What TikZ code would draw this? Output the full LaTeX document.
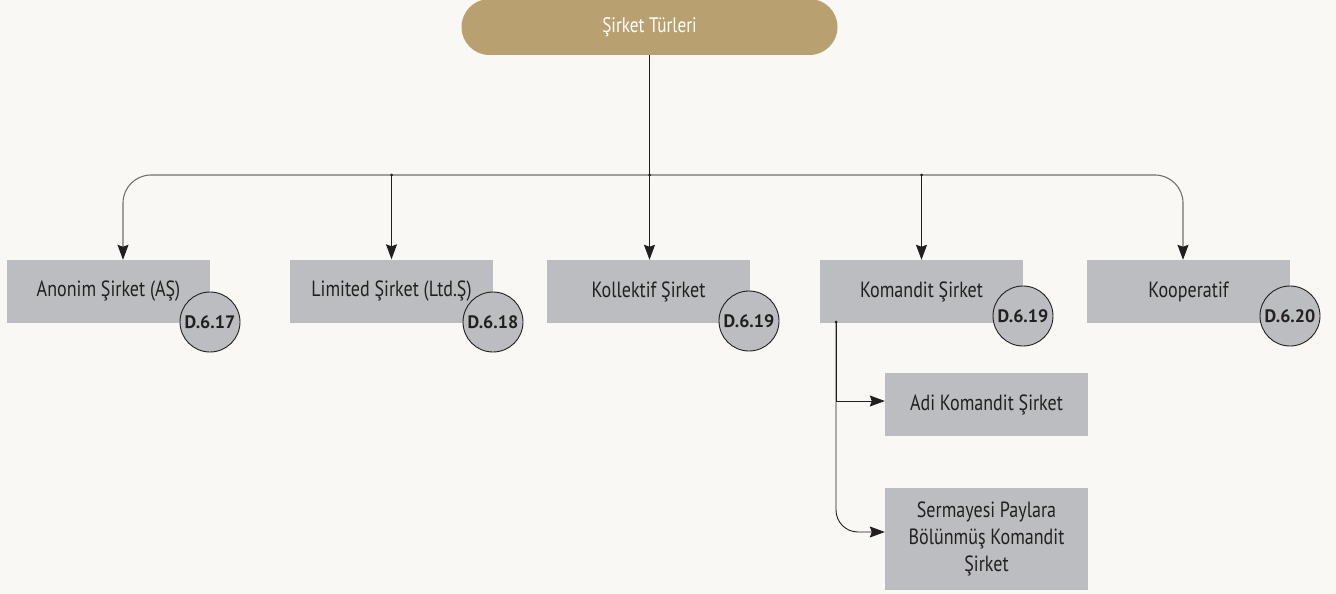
\documentclass[tikz,border=0pt]{standalone}
\usepackage{fontspec}
\setmainfont{PT Sans}[FakeStretch=0.82]
\newfontfamily\circfont{PT Sans}
\usetikzlibrary{arrows.meta,calc}
\definecolor{bgc}{HTML}{F9F8F4}
\definecolor{goldc}{HTML}{B9A070}
\definecolor{boxc}{HTML}{BCBDC0}
\definecolor{busc}{HTML}{707070}
\definecolor{inkc}{HTML}{231F20}
\tikzset{
  pill/.style={rounded corners=28pt, fill=goldc, minimum width=376pt, minimum height=56pt, inner sep=0pt, text=white, font=\fontsize{21}{24}\selectfont},
  typebox/.style={fill=boxc, minimum width=203pt, minimum height=63pt, inner sep=0pt, text=inkc, font=\fontsize{22}{25}\selectfont, align=center},
  refcirc/.style={circle, fill=boxc, draw=inkc, line width=0.9pt, minimum size=60pt, inner sep=0pt, text=inkc, font=\circfont\bfseries\fontsize{18}{21}\selectfont},
  arrowline/.style={draw=inkc, line width=0.9pt, -{Stealth[width=11pt,length=15pt,inset=2pt,color=inkc]}},
  busarrow/.style={draw=busc, line width=1.1pt, rounded corners=28pt, -{Stealth[width=11pt,length=15pt,inset=2pt,color=inkc]}},
  jdot/.style={circle, fill=inkc, inner sep=0pt, minimum size=3pt}
}
\begin{document}
\begin{tikzpicture}[x=1pt,y=-1pt]
\fill[bgc] (0,0) rectangle (1336,594);
\useasboundingbox (0,0) rectangle (1336,594);

\node[pill] (top) at (649.5,27) {Şirket Türleri};

\node[typebox] (anon) at (108.5,291.5) {Anonim Şirket (AŞ)};
\node[typebox] (lim)  at (391.5,291) {Limited Şirket (Ltd.Ş)};
\node[typebox] (koll) at (648.5,291.5) {Kollektif Şirket};
\node[typebox] (kom)  at (921.5,291.5) {Komandit Şirket};
\node[typebox] (koop) at (1188.5,291.5) {Kooperatif};
\node[typebox] (adi)  at (986.5,404.5) {Adi Komandit Şirket};
\node[typebox, minimum height=102pt] (serm) at (986.5,539) {Sermayesi Paylara\\[2pt]Bölünmüş Komandit\\[2pt]Şirket};

\node[refcirc] (c1) at (210,322) {D.6.17};
\node[refcirc] (c2) at (493,322) {D.6.18};
\node[refcirc] (c3) at (749,321) {D.6.19};
\node[refcirc] (c4) at (1023,316) {D.6.19};
\node[refcirc] (c5) at (1290,316) {D.6.20};

\coordinate (bus) at (649.5,175);
\coordinate (busL) at (123,175);
\coordinate (busR) at (1183,175);
\coordinate (kb) at (836,322);

\draw[draw=inkc, line width=0.9pt] (top.south) -- (bus);
\draw[busarrow] (bus) -| (anon.north -| busL);
\draw[busarrow] (bus) -| (koop.north -| busR);
\draw[arrowline] (lim.north |- bus) -- (lim.north);
\draw[arrowline] (bus) -- (koll.north -| bus);
\draw[arrowline] (kom.north |- bus) -- (kom.north);
\node[jdot] at (lim.north |- bus) {};
\node[jdot] at (bus) {};
\node[jdot] at (kom.north |- bus) {};

\draw[arrowline] (kb) |- (adi.west |- 0,401);
\draw[arrowline, rounded corners=22pt] (kb) |- ([yshift=7pt]serm.west);
\node[jdot] at (kb) {};
\end{tikzpicture}
\end{document}
